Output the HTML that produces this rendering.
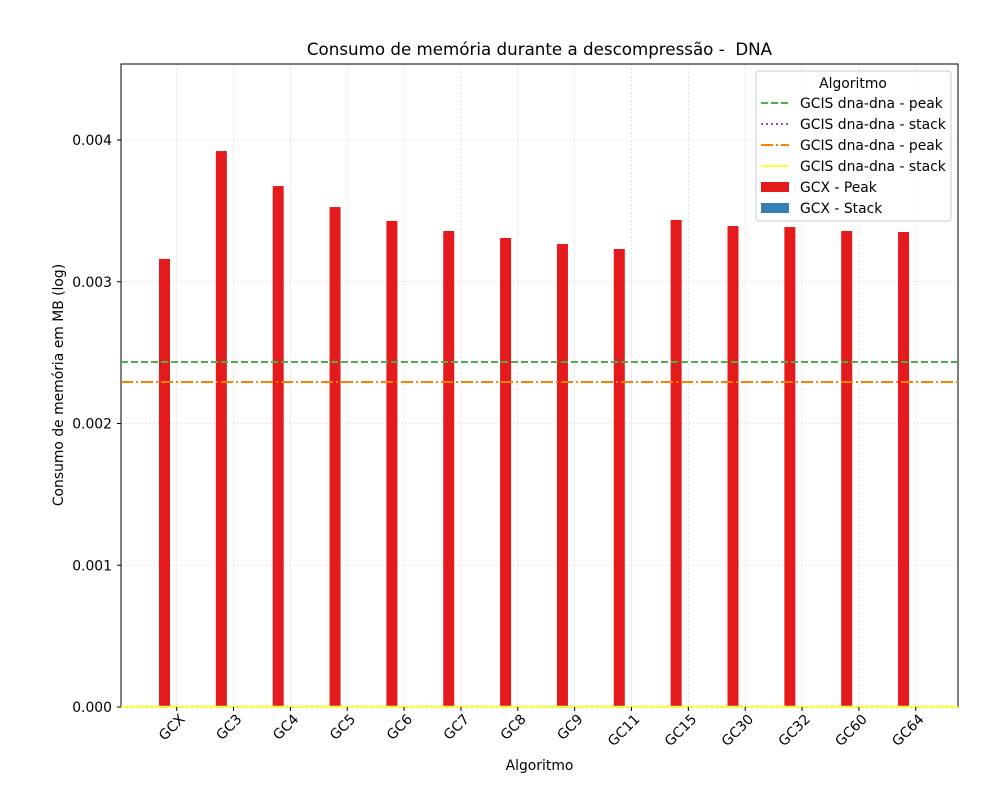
<!DOCTYPE html>
<html><head><meta charset="utf-8"><style>
body{margin:0;background:#fff;font-family:"Liberation Sans","DejaVu Sans",sans-serif}
</style></head><body>
<svg id="c" width="1000" height="800" xmlns="http://www.w3.org/2000/svg" font-family="DejaVu Sans, Liberation Sans, sans-serif">
<rect width="1000" height="800" fill="#fff"/>
<g id="grid"></g>
<g id="bars"></g>
<rect x="121" y="64" width="837" height="643" fill="none" stroke="#000" stroke-width="1"/>
<g id="lines"></g>
<g id="xt"></g>
<g id="yt"></g>
<text x="539.5" y="55" font-size="16.7" text-anchor="middle">Consumo de memória durante a descompressão - &#160;DNA</text>
<text x="539.5" y="770" font-size="13.9" text-anchor="middle">Algoritmo</text>
<text transform="translate(63,385) rotate(-90)" font-size="13.9" text-anchor="middle">Consumo de memória em MB (log)</text>
<g>
<rect x="756" y="71" width="195" height="150" fill="#fff" fill-opacity="0.8" stroke="#ccc" rx="3"/>
<text x="853" y="88" font-size="13.9" text-anchor="middle">Algoritmo</text>
<g font-size="13.9">
<line x1="761" y1="103" x2="789" y2="103" stroke="#4daf4a" stroke-width="2" stroke-dasharray="7,3"/><text x="800" y="108">GCIS dna-dna - peak</text>
<line x1="761" y1="124" x2="789" y2="124" stroke="#984ea3" stroke-width="2" stroke-dasharray="2,3"/><text x="800" y="129">GCIS dna-dna - stack</text>
<line x1="761" y1="145" x2="789" y2="145" stroke="#ff7f00" stroke-width="2" stroke-dasharray="12,3,2,3"/><text x="800" y="150">GCIS dna-dna - peak</text>
<line x1="761" y1="166" x2="789" y2="166" stroke="#ffff33" stroke-width="2"/><text x="800" y="171">GCIS dna-dna - stack</text>
<rect x="761" y="182" width="28" height="10" fill="#e41a1c"/><text x="800" y="192">GCX - Peak</text>
<rect x="761" y="203" width="28" height="10" fill="#377eb8"/><text x="800" y="213">GCX - Stack</text>
</g></g>
</svg>
<script>
const categories=["GCX","GC3","GC4","GC5","GC6","GC7","GC8","GC9","GC11","GC15","GC30","GC32","GC60","GC64"];
const peakValues=[0.003161,0.003922,0.003675,0.003527,0.003429,0.003358,0.003309,0.003266,0.003231,0.003436,0.003393,0.003386,0.003358,0.003351];
const stackValues=[0.000003,0.000003,0.000003,0.000003,0.000003,0.000003,0.000003,0.000003,0.000003,0.000003,0.000003,0.000003,0.000003,0.000003];
const gcisPeak1=0.002434;
const gcisStack1=0.000002;
const gcisPeak2=0.002293;
const gcisStack2=0.000002;
const yTicks=[0,0.001,0.002,0.003,0.004];
const yTickLabels=["0.000","0.001","0.002","0.003","0.004"];
const NS="http://www.w3.org/2000/svg";
const xS=i=>176.7+i*56.85;
const yS=v=>707-v*141750;
function mk(t,a,p){const e=document.createElementNS(NS,t);for(const k in a)e.setAttribute(k,a[k]);p.appendChild(e);return e;}
const grid=document.getElementById('grid'),bars=document.getElementById('bars'),lines=document.getElementById('lines'),xt=document.getElementById('xt'),yt=document.getElementById('yt');
categories.forEach((c,i)=>{
 const x=xS(i);
 const g=mk('line',{x1:x,x2:x,y1:64,y2:707,stroke:'#ddd','stroke-dasharray':'2,2','stroke-width':0.8},grid);
 
 
 const b=mk('rect',{x:x-17.7,y:yS(peakValues[i]),width:11,height:707-yS(peakValues[i]),fill:'#e41a1c'},bars);
 
 
 const s=mk('rect',{x:x-6.7,y:yS(stackValues[i]),width:11,height:707-yS(stackValues[i]),fill:'#377eb8'},bars);
 
 
 mk('line',{x1:x,x2:x,y1:707,y2:711,stroke:'#000'},xt);
 const t=mk('text',{transform:`translate(${x+9},${720}) rotate(-45)`,'font-size':13.9,'text-anchor':'end'},xt);
 t.textContent=c;
 
 
});
yTicks.forEach((v,i)=>{
 const y=yS(v);
 const g=mk('line',{x1:121,x2:958,y1:y,y2:y,stroke:'#ddd','stroke-dasharray':'2,2','stroke-width':0.8},grid);
 
 
 mk('line',{x1:117,x2:121,y1:y,y2:y,stroke:'#000'},yt);
 const t=mk('text',{x:112,y:y+5,'font-size':13.9,'text-anchor':'end'},yt);
 t.textContent=yTickLabels[i];
 
 
});
[[gcisPeak1,'#4daf4a','7,3','gcis-peak-line-1'],[gcisStack1,'#984ea3','2,3','gcis-stack-line-1'],[gcisPeak2,'#ff7f00','12,3,2,3','gcis-peak-line-2'],[gcisStack2,'#ffff33','none','gcis-stack-line-2']].forEach(d=>{
 const l=mk('line',{x1:121,x2:958,y1:yS(d[0]),y2:yS(d[0]),stroke:d[1],'stroke-width':2,'stroke-dasharray':d[2]},lines);
 
 
});
</script>
</body></html>
